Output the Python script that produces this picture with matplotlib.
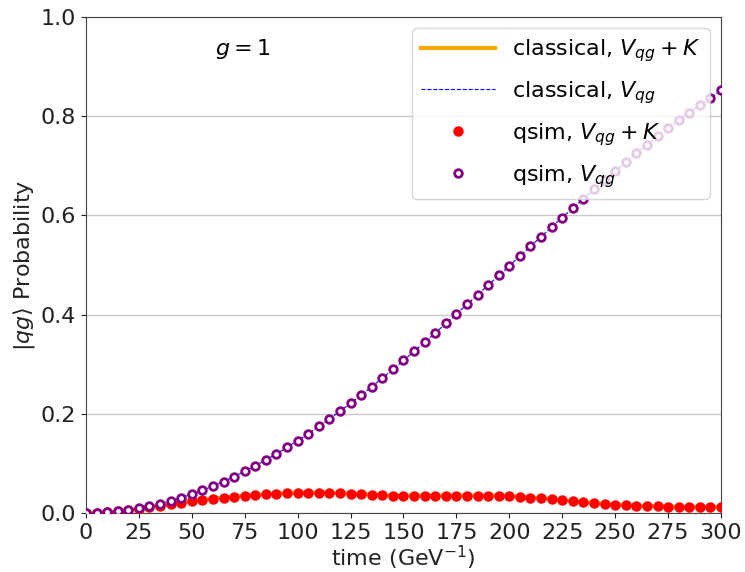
import numpy as np
import matplotlib
matplotlib.use("Agg")
import matplotlib.pyplot as plt

# time grid (GeV^-1), one sample every 5 units
t = np.arange(0, 301, 5)

# |qg> probability, potential only
p_v = [0.0, 0.0004, 0.0015, 0.0035, 0.0061, 0.0096, 0.0138, 0.0187, 0.0244, 0.0308,
       0.0379, 0.0458, 0.0543, 0.0635, 0.0735, 0.0840, 0.0952, 0.1070, 0.1194, 0.1324,
       0.1459, 0.1601, 0.1747, 0.1898, 0.2054, 0.2215, 0.2379, 0.2548, 0.2721, 0.2898,
       0.3077, 0.3259, 0.3444, 0.3632, 0.3822, 0.4013, 0.4207, 0.4401, 0.4596, 0.4791,
       0.4987, 0.5183, 0.5378, 0.5573, 0.5767, 0.5958, 0.6149, 0.6338, 0.6524, 0.6708,
       0.6889, 0.7081, 0.7254, 0.7425, 0.7593, 0.7758, 0.7918, 0.8073, 0.8223, 0.8369,
       0.8525]

# |qg> probability, potential + kinetic
p_vk = [0.0, 0.0004, 0.0015, 0.0035, 0.006, 0.009, 0.012, 0.015, 0.018, 0.021,
        0.024, 0.026, 0.029, 0.031, 0.033, 0.035, 0.036, 0.038, 0.039, 0.040,
        0.041, 0.041, 0.041, 0.041, 0.040, 0.039, 0.038, 0.037, 0.036, 0.035,
        0.035, 0.035, 0.035, 0.035, 0.035, 0.035, 0.035, 0.035, 0.035, 0.035,
        0.034, 0.033, 0.031, 0.030, 0.028, 0.026, 0.024, 0.022, 0.020, 0.018,
        0.017, 0.016, 0.015, 0.014, 0.014, 0.013, 0.012, 0.012, 0.012, 0.012,
        0.012]

plt.rcParams["font.family"] = ["DejaVu Sans"]
plt.rcParams["mathtext.fontset"] = "dejavusans"

fig = plt.figure(figsize=(7.45, 5.72), dpi=100)
ax = fig.add_axes([0.1154, 0.1031, 0.8524, 0.867])

ax.plot(t, p_vk, color="orange", lw=3, label=r"classical, $V_{qg}+K$", zorder=2)
ax.plot(t, p_v, color="blue", lw=0.8, ls="--", label=r"classical, $V_{qg}$", zorder=2)
ax.plot(t, p_vk, "o", color="red", ms=6.5, ls="none", label=r"qsim, $V_{qg}+K$", zorder=3)
ax.plot(t, p_v, "o", mfc="white", mec="purple", mew=2, ms=5.5, ls="none",
        label=r"qsim, $V_{qg}$", zorder=3)

ax.text(61, 0.935, r"$g=1$", fontsize=16, va="center")

ax.set_xlim(0, 300)
ax.set_ylim(0, 1.0)
ax.set_xticks(np.arange(0, 301, 25))
ax.set_yticks(np.arange(0, 1.01, 0.2))
ax.yaxis.grid(True, color="#c8c8c8", lw=1)
ax.set_axisbelow(True)
ax.tick_params(labelsize=16, colors="#222222")
for s in ax.spines.values():
    s.set_color("#444444")

ax.set_xlabel(r"time (GeV$^{-1}$)", fontsize=16, color="#222222", labelpad=1)
ax.set_ylabel(r"$|qg\rangle$ Probability", fontsize=16, color="#222222", labelpad=3)

ax.legend(loc="upper right", fontsize=16, framealpha=0.8, borderaxespad=0.5,
          handlelength=3.3, labelspacing=0.68)

fig.savefig("out.png", dpi=100)
